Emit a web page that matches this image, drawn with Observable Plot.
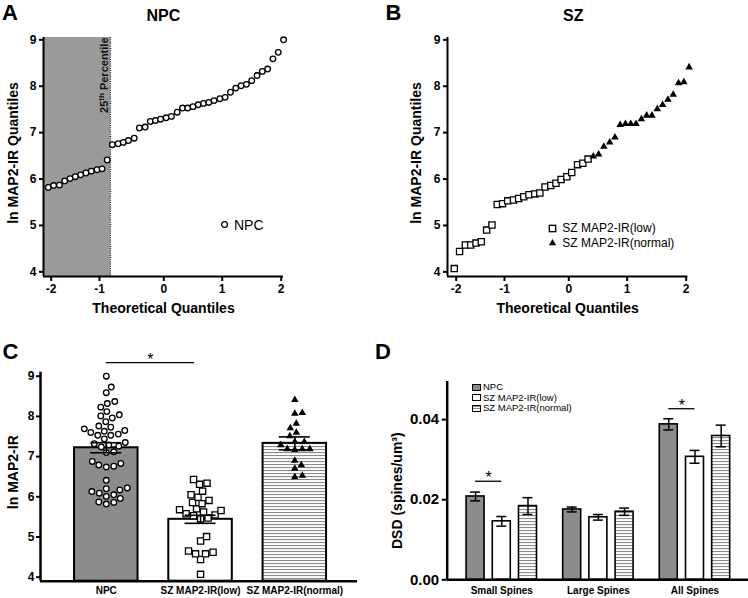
<!DOCTYPE html>
<html><head><meta charset="utf-8">
<script src="https://cdn.jsdelivr.net/npm/d3@7"></script>
<script src="https://cdn.jsdelivr.net/npm/@observablehq/plot@0.6"></script>
<style>
body{margin:0;background:#fff;}
#fig{position:relative;width:748px;height:598px;overflow:hidden;font-family:"Liberation Sans",Arial,Helvetica,sans-serif;color:#000;background:#fff;}
.abs{position:absolute;line-height:1;white-space:nowrap;z-index:5;}
</style></head><body>
<svg width="0" height="0" style="position:absolute"><defs>
<pattern id="hstripes" patternUnits="userSpaceOnUse" width="8" height="3"><rect width="8" height="3" fill="#fff"/><rect width="8" height="1.1" fill="#8a8a8a"/></pattern>
</defs></svg>
<div id="fig"></div>
<script>
// ---------------- DATA ----------------
// Panel A: NPC quantile plot
const npcTheo = [-2.06,-1.95,-1.83,-1.72,-1.61,-1.50,-1.39,-1.28,-1.17,-1.05,-0.96,-0.88,-0.80,-0.71,-0.63,-0.55,-0.46,-0.38,-0.29,-0.21,-0.13,-0.05,0.04,0.13,0.23,0.32,0.41,0.50,0.59,0.68,0.77,0.86,0.96,1.05,1.14,1.23,1.32,1.41,1.50,1.59,1.68,1.77,1.86,1.95,2.04];
const npcLn = [5.82,5.86,5.87,5.96,6.01,6.05,6.09,6.13,6.17,6.20,6.22,6.41,6.74,6.76,6.79,6.83,6.88,7.10,7.12,7.24,7.26,7.29,7.32,7.35,7.44,7.53,7.53,7.56,7.60,7.63,7.65,7.69,7.73,7.76,7.87,7.96,8.01,8.04,8.12,8.23,8.32,8.37,8.59,8.73,9.00];
const pct25 = -0.83;
// Panel B: SZ quantile plot
const szLowTheo = [-2.04,-1.93,-1.81,-1.70,-1.59,-1.48,-1.37,-1.26,-1.15,-1.04,-0.95,-0.86,-0.78,-0.70,-0.62,-0.53,-0.45,-0.37,-0.28,-0.20,-0.12,-0.03,0.05,0.15,0.24,0.33];
const szLowLn = [4.07,4.44,4.58,4.58,4.62,4.65,4.90,5.01,5.45,5.47,5.53,5.55,5.58,5.62,5.66,5.68,5.70,5.83,5.86,5.91,5.99,6.05,6.14,6.31,6.34,6.43];
const szNormTheo = [0.42,0.51,0.60,0.70,0.79,0.88,0.97,1.06,1.15,1.24,1.33,1.42,1.51,1.60,1.69,1.78,1.87,1.96,2.05];
const szNormLn = [6.49,6.53,6.70,6.79,6.90,7.17,7.19,7.19,7.19,7.29,7.37,7.37,7.51,7.60,7.71,7.82,8.07,8.09,8.41];
const qqTicksX = [-2,-1,0,1,2];
const qqTicksY = [4,5,6,7,8,9];
// Panel C: bars of ln MAP2-IR
const groupNames = ["NPC","SZ MAP2-IR(low)","SZ MAP2-IR(normal)"];
const cMean = [7.22,5.44,7.33];
const cSem = [0.125,0.10,0.16];
const sigC = [{from:0, to:1, level:9.34}];
// Panel D: dendritic spine density
const spineTypes = ["Small Spines","Large Spines","All Spines"];
const seriesNames = ["NPC","SZ MAP2-IR(low)","SZ MAP2-IR(normal)"];
const dsdNPC = [0.0208,0.01755,0.0388];
const dsdLow = [0.0146,0.0156,0.0307];
const dsdNorm = [0.0184,0.0170,0.0359];
const semNPC = [0.0011,0.0006,0.0014];
const semLow = [0.0012,0.0007,0.0016];
const semNorm = [0.0021,0.0009,0.0027];
const sigD = [{group:0, level:0.0246},{group:2, level:0.0427}];
const dTicksY = [0,0.02,0.04];

// ---------------- STYLE / LAYOUT ----------------
const FONT = '"Liberation Sans", Arial, Helvetica, sans-serif';
const baseStyle = {fontFamily: FONT, background: "transparent", color: "#000", overflow: "visible"};
const GREY = "#8c8c8c";
const seriesFill = [GREY, "white", "url(#hstripes)"];
const fig = document.getElementById("fig");
const intFmt = d => String(d);

function place(svg, left, top) {
  svg.style.position = "absolute";
  svg.style.left = left + "px";
  svg.style.top = top + "px";
  fig.appendChild(svg);
}
function htmlText(txt, x, capY, size, weight, anchor) {
  const el = document.createElement("div");
  el.className = "abs";
  el.style.fontSize = size + "px";
  el.style.fontWeight = weight || "normal";
  el.style.top = (capY - 0.4885 * size) + "px";
  el.style.left = x + "px";
  if (anchor === "middle") el.style.transform = "translateX(-50%)";
  el.textContent = txt;
  fig.appendChild(el);
  return el;
}
function htmlSymbol(svgInner, cx, cy, w, h) {
  const el = document.createElement("div");
  el.className = "abs";
  el.style.left = (cx - w / 2) + "px";
  el.style.top = (cy - h / 2) + "px";
  el.innerHTML = `<svg width="${w}" height="${h}" style="display:block;overflow:visible">${svgInner}</svg>`;
  fig.appendChild(el);
}
function margins(box, frame) {
  return {
    width: box.width, height: box.height,
    marginLeft: frame.left - box.left,
    marginRight: box.left + box.width - frame.right,
    marginTop: frame.top - box.top,
    marginBottom: box.top + box.height - frame.bottom
  };
}
function dodgeOffsets(vals, pxPerY, diam) {
  const order = d3.range(vals.length).sort((a, b) => vals[a] - vals[b]);
  const placed = [];
  const off = new Array(vals.length);
  for (const i of order) {
    const y = vals[i] * pxPerY;
    let o = 0;
    for (let k = 0; k < 1000; k++) {
      o = (k % 2 ? 1 : -1) * Math.ceil(k / 2) * 0.5;
      if (placed.every(p => (p.x - o) ** 2 + (p.y - y) ** 2 >= diam * diam)) break;
    }
    placed.push({x: o, y});
    off[i] = o;
  }
  return off;
}
const yLabel = (txt, dx, dy) => Plot.text([txt], {text: d => d, frameAnchor: "left", rotate: -90, textAnchor: "middle", lineAnchor: "middle", dx, dy, fontSize: 14, fontWeight: "bold"});

// ---------------- PANEL A ----------------
const aBox = {left: 0, top: 0, width: 374, height: 320};
const aFrame = {left: 43, right: 283, top: 37, bottom: 276};
const aXRange = [50.7, 99, 163.3, 221.7, 280.7];
const qqYDomain = [3.9, 9.05];
const aXLo = -2 + (aFrame.left - aXRange[0]) / (aXRange[1] - aXRange[0]);
const plotA = Plot.plot({
  ...margins(aBox, aFrame),
  style: baseStyle,
  x: {type: "linear", domain: qqTicksX, range: aXRange},
  y: {domain: qqYDomain},
  marks: [
    Plot.rect([pct25], {x1: aXLo, x2: d => d, fill: "#9a9a9a"}),
    Plot.ruleX([pct25], {stroke: "#111", strokeWidth: 1.3, strokeDasharray: "1,1.2"}),
    Plot.text(["25th Percentile"], {x: () => pct25, text: d => d, frameAnchor: "top", rotate: -90, textAnchor: "end", lineAnchor: "middle", dx: -6, fontSize: 11, fontWeight: "bold", fill: "#111"}),
    Plot.dot(npcLn, {x: npcTheo, y: npcLn, r: 2.8, fill: "white", stroke: "#000", strokeWidth: 1.3}),
    Plot.ruleY([qqYDomain[0]], {strokeWidth: 2}),
    Plot.ruleX([aXLo], {strokeWidth: 2}),
    Plot.axisY({ticks: qqTicksY, tickSize: 4, tickPadding: 3, tickFormat: intFmt, fontSize: 12, fontWeight: "bold", strokeWidth: 2, label: null}),
    Plot.axisX({ticks: qqTicksX, tickSize: 5, tickPadding: 3, tickFormat: intFmt, fontSize: 12, fontWeight: "bold", strokeWidth: 2, label: null}),
    Plot.text(["Theoretical Quantiles"], {text: d => d, frameAnchor: "bottom", textAnchor: "middle", dy: 31.8, lineAnchor: "middle", fontSize: 14, fontWeight: "bold"}),
    yLabel("ln MAP2-IR Quantiles", -30, -4)
  ]
});
place(plotA, aBox.left, aBox.top);
d3.select(plotA).selectAll("text").filter(function () { return this.textContent === "25th Percentile"; }).each(function () {
  const t = d3.select(this);
  t.text(null);
  t.append("tspan").text("25");
  t.append("tspan").attr("dy", -3.5).attr("font-size", "8px").text("th");
  t.append("tspan").attr("dy", 3.5).text(" Percentile");
});

// ---------------- PANEL B ----------------
const bBox = {left: 374, top: 0, width: 374, height: 320};
const bFrame = {left: 447, right: 687.3, top: 37, bottom: 276};
const bXRange = [81.7, 130, 194.3, 252.7, 311.7];
const bXLo = -2 + (bFrame.left - bBox.left - bXRange[0]) / (bXRange[1] - bXRange[0]);
const plotB = Plot.plot({
  ...margins(bBox, bFrame),
  style: baseStyle,
  x: {type: "linear", domain: qqTicksX, range: bXRange},
  y: {domain: qqYDomain},
  marks: [
    Plot.dot(szLowLn, {x: szLowTheo, y: szLowLn, symbol: "square", r: 3.5, fill: "white", stroke: "#000", strokeWidth: 1.3}),
    Plot.dot(szNormLn, {x: szNormTheo, y: szNormLn, symbol: "triangle", r: 2.8, fill: "#000"}),
    Plot.ruleY([qqYDomain[0]], {strokeWidth: 2}),
    Plot.ruleX([bXLo], {strokeWidth: 2}),
    Plot.axisY({ticks: qqTicksY, tickSize: 4, tickPadding: 3, tickFormat: intFmt, fontSize: 12, fontWeight: "bold", strokeWidth: 2, label: null}),
    Plot.axisX({ticks: qqTicksX, tickSize: 5, tickPadding: 3, tickFormat: intFmt, fontSize: 12, fontWeight: "bold", strokeWidth: 2, label: null}),
    Plot.text(["Theoretical Quantiles"], {text: d => d, frameAnchor: "bottom", textAnchor: "middle", dy: 31.8, lineAnchor: "middle", fontSize: 14, fontWeight: "bold"}),
    yLabel("ln MAP2-IR Quantiles", -31, -4)
  ]
});
place(plotB, bBox.left, bBox.top);

// ---------------- PANEL C ----------------
const cBox = {left: 0, top: 320, width: 374, height: 278};
const cFrame = {left: 40, right: 357, top: 371.7, bottom: 580.7};
const cXDomain = [-0.698, 2.665], cYDomain = [3.9, 9.1];
const cPxX = (cFrame.right - cFrame.left) / (cXDomain[1] - cXDomain[0]);
const cPxY = (cFrame.bottom - cFrame.top) / (cYDomain[1] - cYDomain[0]);
const cBarW = 63.5 / cPxX, capHalfC = 15.5 / cPxX, sigInset = 6 / cPxX;
const cPts = [];
[npcLn, szLowLn, szNormLn].forEach((vals, g) => {
  const off = dodgeOffsets(vals, cPxY, 7.4);
  vals.forEach((v, i) => cPts.push({g, v, x: g + off[i] / cPxX}));
});
const plotC = Plot.plot({
  ...margins(cBox, cFrame),
  style: baseStyle,
  x: {domain: cXDomain},
  y: {domain: cYDomain},
  color: {type: "identity"},
  marks: [
    Plot.rect(groupNames, {x1: (d, i) => i - cBarW / 2, x2: (d, i) => i + cBarW / 2, y1: cYDomain[0], y2: (d, i) => cMean[i], fill: (d, i) => seriesFill[i], stroke: "#000", strokeWidth: 2}),
    Plot.dot(cPts.filter(d => d.g === 0), {x: "x", y: "v", r: 2.8, fill: "white", stroke: "#000", strokeWidth: 1.3}),
    Plot.dot(cPts.filter(d => d.g === 1), {x: "x", y: "v", symbol: "square", r: 3.5, fill: "white", stroke: "#000", strokeWidth: 1.3}),
    Plot.dot(cPts.filter(d => d.g === 2), {x: "x", y: "v", symbol: "triangle", r: 2.8, fill: "#000"}),
    Plot.ruleX(groupNames, {x: (d, i) => i, y1: (d, i) => cMean[i] - cSem[i], y2: (d, i) => cMean[i] + cSem[i], strokeWidth: 1.6}),
    Plot.ruleY(groupNames, {y: (d, i) => cMean[i] + cSem[i], x1: (d, i) => i - capHalfC, x2: (d, i) => i + capHalfC, strokeWidth: 1.6}),
    Plot.ruleY(groupNames, {y: (d, i) => cMean[i] - cSem[i], x1: (d, i) => i - capHalfC, x2: (d, i) => i + capHalfC, strokeWidth: 1.6}),
    Plot.ruleY(sigC, {y: "level", x1: "from", x2: d => d.to - sigInset, strokeWidth: 1.3}),
    Plot.text(sigC, {x: d => (d.from + d.to - sigInset) / 2, y: "level", text: () => "*", fontSize: 16, dy: -3, lineAnchor: "middle"}),
    Plot.ruleY([cYDomain[0]], {strokeWidth: 2.5}),
    Plot.ruleX([cXDomain[0]], {strokeWidth: 2.5}),
    Plot.axisY({ticks: qqTicksY, tickSize: 4, tickPadding: 2, tickFormat: intFmt, fontSize: 12, fontWeight: "bold", strokeWidth: 2, label: null}),
    Plot.axisX({ticks: [0, 1, 2], tickSize: 0, tickPadding: 6, tickFormat: i => groupNames[i], fontSize: 10, fontWeight: "bold", label: null}),
    yLabel("ln MAP2-IR", -27, -4.5)
  ]
});
place(plotC, cBox.left, cBox.top);

// ---------------- PANEL D ----------------
const dBox = {left: 374, top: 320, width: 374, height: 278};
const dFrame = {left: 446.7, right: 748, top: 381, bottom: 579.3};
const dXDomain = [-0.565, 2.554], dYDomain = [0, 0.0495];
const dPxX = (dFrame.right - dFrame.left) / (dXDomain[1] - dXDomain[0]);
const dOff = [-26.2 / dPxX, 0, 26.2 / dPxX], dBarW = 18 / dPxX, capHalfD = 5 / dPxX;
const dMeans = [dsdNPC, dsdLow, dsdNorm], dSems = [semNPC, semLow, semNorm];
const dRows = [];
spineTypes.forEach((t, g) => seriesNames.forEach((s, k) => dRows.push({g, k, mean: dMeans[k][g], sem: dSems[k][g]})));
const plotD = Plot.plot({
  ...margins(dBox, dFrame),
  style: baseStyle,
  x: {domain: dXDomain},
  y: {domain: dYDomain},
  color: {type: "identity"},
  marks: [
    Plot.rect(dRows, {x1: d => d.g + dOff[d.k] - dBarW / 2, x2: d => d.g + dOff[d.k] + dBarW / 2, y1: 0, y2: "mean", fill: d => seriesFill[d.k], stroke: "#000", strokeWidth: 1.6}),
    Plot.ruleX(dRows, {x: d => d.g + dOff[d.k], y1: d => d.mean - d.sem, y2: d => d.mean + d.sem, strokeWidth: 1.5}),
    Plot.ruleY(dRows, {y: d => d.mean + d.sem, x1: d => d.g + dOff[d.k] - capHalfD, x2: d => d.g + dOff[d.k] + capHalfD, strokeWidth: 1.5}),
    Plot.ruleY(dRows, {y: d => d.mean - d.sem, x1: d => d.g + dOff[d.k] - capHalfD, x2: d => d.g + dOff[d.k] + capHalfD, strokeWidth: 1.5}),
    Plot.ruleY(sigD, {y: "level", x1: d => d.group + dOff[0], x2: d => d.group + dOff[1], strokeWidth: 1.3}),
    Plot.text(sigD, {x: d => d.group + (dOff[0] + dOff[1]) / 2, y: "level", text: () => "*", fontSize: 16, dy: -3, lineAnchor: "middle"}),
    Plot.ruleY([0], {strokeWidth: 2.5}),
    Plot.ruleX([dXDomain[0]], {strokeWidth: 2.5}),
    Plot.axisY({ticks: dTicksY, tickSize: 5, tickPadding: 3, tickFormat: d3.format(".2f"), fontSize: 15, fontWeight: "bold", strokeWidth: 2, label: null}),
    Plot.axisX({ticks: [0, 1, 2], tickSize: 0, tickPadding: 7, tickFormat: i => spineTypes[i], fontSize: 10, fontWeight: "bold", label: null}),
    yLabel("DSD (spines/um³)", -49.4, 10)
  ]
});
place(plotD, dBox.left, dBox.top);

// ---------------- HTML TEXT: letters, titles, legends ----------------
htmlText("A", 2, 12.5, 22, "bold");
htmlText("B", 385.5, 12.5, 22, "bold");
htmlText("C", 2.5, 352, 22, "bold");
htmlText("D", 375, 352, 22, "bold");
htmlText("NPC", 163.3, 15.9, 16, "bold", "middle");
htmlText("SZ", 573.3, 15.9, 16, "bold", "middle");

// Legend A
htmlSymbol('<circle cx="4.5" cy="4.5" r="2.9" fill="white" stroke="#000" stroke-width="1.3"/>', 224, 224.7, 9, 9);
htmlText("NPC", 234, 224.7, 14, "normal");
// Legend B
htmlSymbol('<rect x="1.3" y="1.3" width="6.4" height="6.4" fill="white" stroke="#000" stroke-width="1.3"/>', 552.3, 228.3, 9, 9);
htmlText(seriesNames[1], 562.3, 228.3, 12, "normal");
htmlSymbol('<path d="M4.5,1 L8.2,7.3 L0.8,7.3 Z" fill="#000"/>', 552.3, 242.7, 9, 9);
htmlText(seriesNames[2], 562.3, 242.7, 12, "normal");
// Legend D
const legRows = [387, 397.5, 408];
const legFills = [GREY, "#fff", "repeating-linear-gradient(to bottom,#8a8a8a 0px,#8a8a8a 1px,#fff 1px,#fff 2.4px)"];
seriesNames.forEach((s, k) => {
  const sw = document.createElement("div");
  sw.className = "abs";
  sw.style.left = "472px";
  sw.style.top = (legRows[k] - 3.5) + "px";
  sw.style.width = "7px";
  sw.style.height = "5px";
  sw.style.border = "1px solid #000";
  sw.style.background = legFills[k];
  fig.appendChild(sw);
  htmlText(s, 483, legRows[k], 9.5, "normal");
});
</script>
</body></html>
